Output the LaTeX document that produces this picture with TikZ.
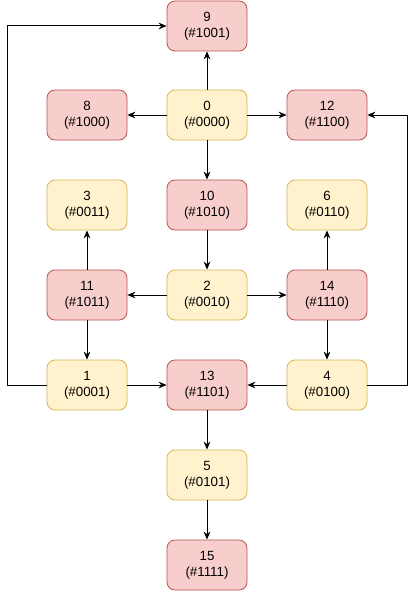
\documentclass[tikz,border=0pt]{standalone}
\usepackage{fontspec}
\setmainfont{Liberation Sans}
\usepackage{xcolor}
\usetikzlibrary{arrows.meta}

\definecolor{redfill}{HTML}{F8CECC}
\definecolor{redline}{HTML}{B85450}
\definecolor{yelfill}{HTML}{FFF2CC}
\definecolor{yelline}{HTML}{D6B656}

\begin{document}
\begin{tikzpicture}[x=0.75pt, y=-0.75pt,
    state/.style={rounded corners=6pt, minimum width=60pt, minimum height=37.5pt,
        align=center, font=\fontsize{10}{12}\selectfont, line width=0.6pt, inner sep=1pt},
    hot/.style={state, fill=redfill, draw=redline},
    cold/.style={state, fill=yelfill, draw=yelline},
    link/.style={-{Stealth[length=6pt, width=5pt]}, line width=0.75pt}]
    \useasboundingbox (0,0) rectangle (416,592);

    % states with their codes
    \foreach \n/\code/\x/\y/\s in {9/1001/207/26/hot, 8/1000/87/115/hot,
        0/0000/207/115/cold, 12/1100/327/115/hot,
        3/0011/87/205/cold, 10/1010/207/205/hot, 6/0110/327/205/cold,
        11/1011/87/295/hot, 2/0010/207/295/cold, 14/1110/327/295/hot,
        1/0001/87/385/cold, 13/1101/207/385/hot, 4/0100/327/385/cold,
        5/0101/207/475/cold, 15/1111/207/565/hot} {
        \node[\s] (s\n) at (\x,\y) {\n\\(\#\code)};
    }

    % transitions
    \foreach \a/\b in {0/9, 0/8, 0/12, 0/10, 10/2, 2/11, 2/14, 11/3, 11/1,
        14/6, 14/4, 1/13, 4/13, 13/5, 5/15} {
        \draw[link] (s\a) -- (s\b);
    }

    % wrap-around edges
    \coordinate (wl) at (7,0);
    \coordinate (wr) at (407,0);
    \draw[link] (s1.west) -| (wl |- s9) -- (s9.west);
    \draw[link] (s4.east) -| (wr |- s12) -- (s12.east);
\end{tikzpicture}
\end{document}
